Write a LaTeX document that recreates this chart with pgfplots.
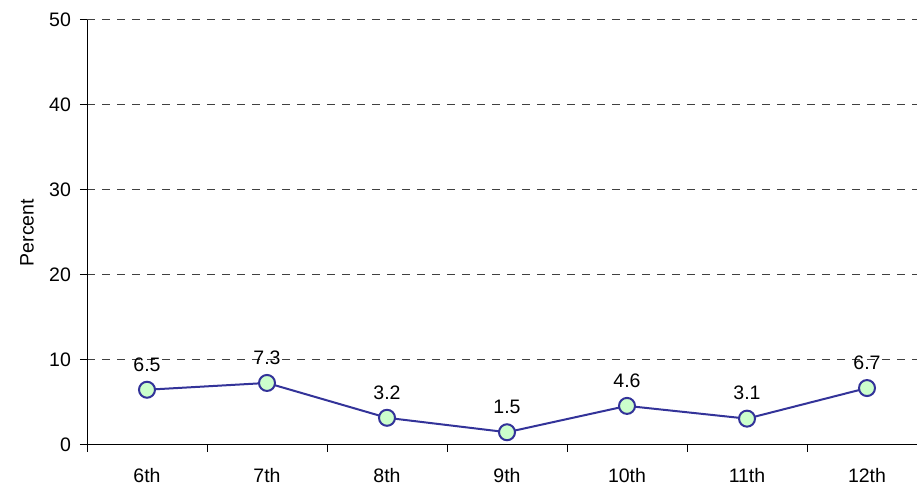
\documentclass[border=0pt]{standalone}
\usepackage{fontspec}
\setmainfont{Liberation Sans}
\usepackage{pgfplots}
\pgfplotsset{compat=1.18}
\definecolor{linecol}{HTML}{333399}
\definecolor{markfill}{HTML}{CCFFCC}
\definecolor{gridcol}{HTML}{404040}
\begin{document}
\begin{tikzpicture}[font=\fontsize{9.75}{11}\selectfont]
\begin{axis}[
  scale only axis, width=415pt, height=212.5pt,
  xmin=-0.5, xmax=6.4167, ymin=0, ymax=50,
  axis lines=left, axis line style={-, black, line width=0.5pt},
  /pgf/number format/assume math mode=true,
  xtick={-0.5,0.5,...,5.5}, xticklabels={},
  extra x ticks={0,...,6},
  extra x tick labels={6th,7th,8th,9th,10th,11th,12th},
  extra x tick style={major tick length=0pt, xticklabel style={yshift=-8pt}},
  ytick={0,10,...,50},
  tick align=outside,
  major tick length=3.5pt,
  tick style={black, line width=0.5pt},
  ymajorgrids, y grid style={gridcol, dash pattern=on 4pt off 3.5pt, line width=0.5pt},
  yticklabel style={xshift=-1pt},
  ylabel={Percent},
  ylabel style={at={(axis description cs:-0.0723,0.5)}, anchor=center},
  clip=false,
]
\addplot[linecol, line width=1pt, mark=*, mark size=4pt,
  mark options={draw=linecol, fill=markfill, line width=1pt},
  nodes near coords,
  every node near coord/.append style={black, anchor=south, inner sep=0pt, yshift=8.75pt}]
  coordinates {(0,6.5) (1,7.3) (2,3.2) (3,1.5) (4,4.6) (5,3.1) (6,6.7)};
\end{axis}
\pgfresetboundingbox
\path ([shift={(-43.5pt,-19.5pt)}]current axis.south west) rectangle ([shift={(0pt,10pt)}]current axis.north east);
\end{tikzpicture}
\end{document}
